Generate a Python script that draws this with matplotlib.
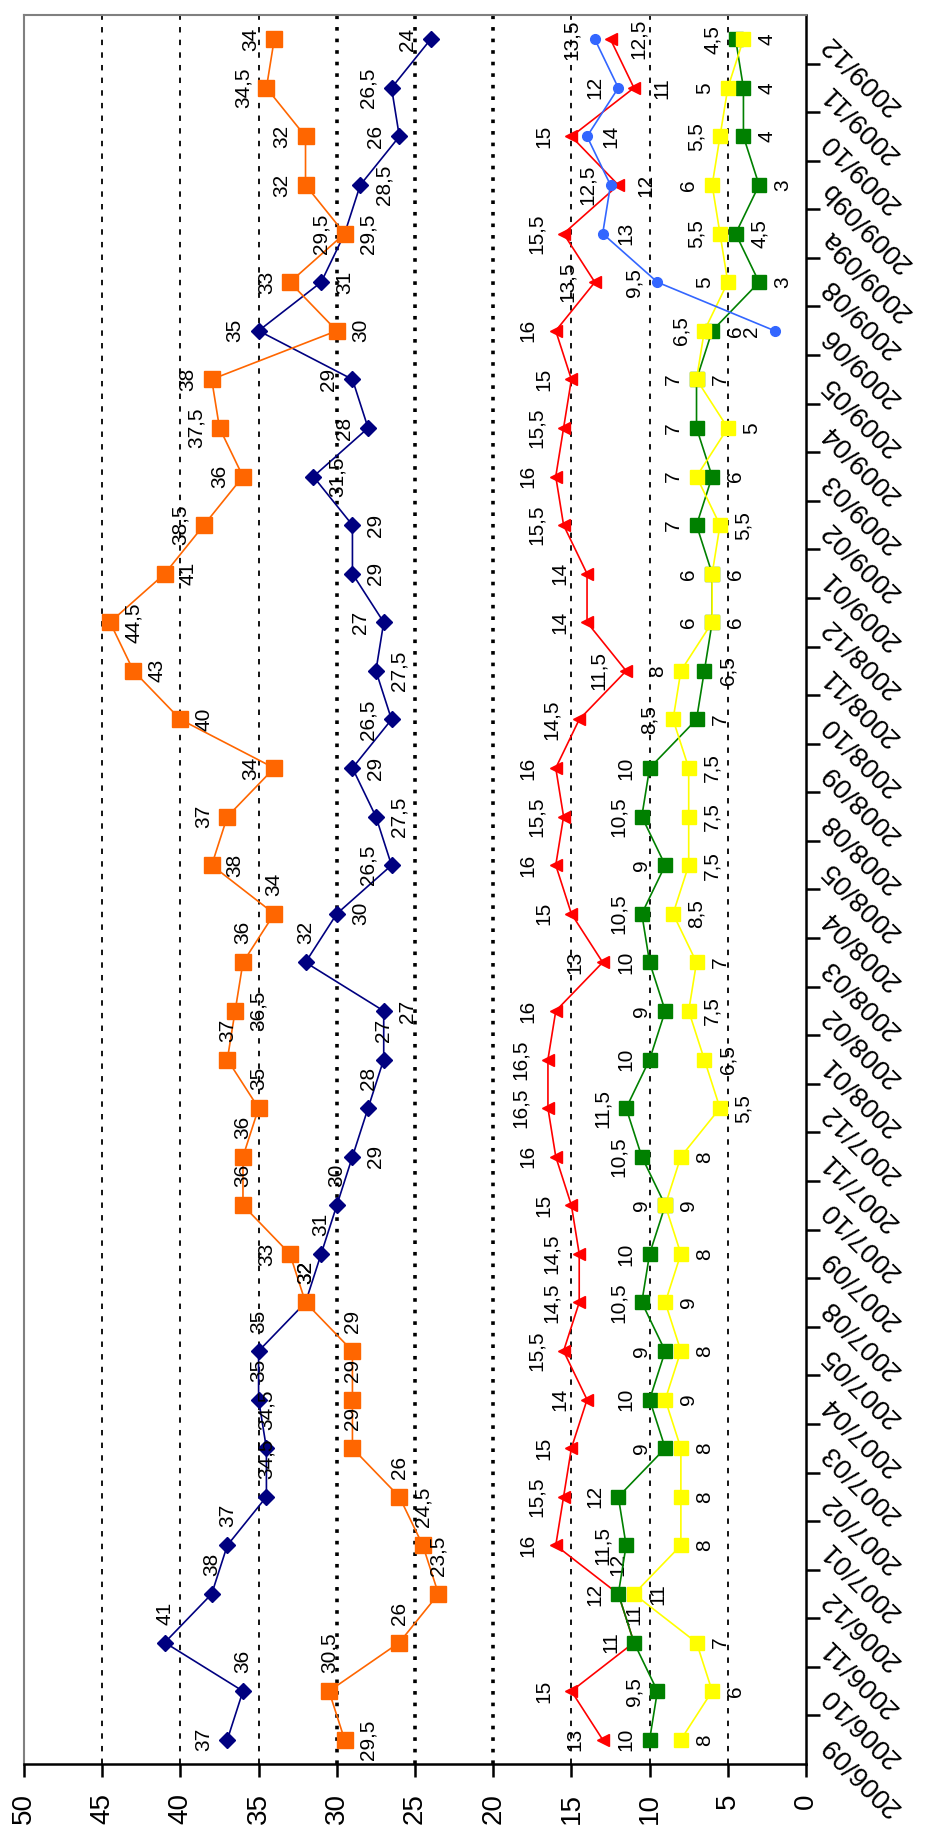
import numpy as np
import matplotlib.pyplot as plt

plt.rcParams['font.family'] = ['Liberation Sans', 'DejaVu Sans']

# categories, bottom to top
months = ['2006/09', '2006/10', '2006/11', '2006/12',
          '2007/01', '2007/02', '2007/03', '2007/04', '2007/05', '2007/08',
          '2007/09', '2007/10', '2007/11', '2007/12',
          '2008/01', '2008/02', '2008/03', '2008/04', '2008/05', '2008/08',
          '2008/09', '2008/10', '2008/11', '2008/12',
          '2009/01', '2009/02', '2009/03', '2009/04', '2009/05', '2009/06',
          '2009/08', '2009/09a', '2009/09b', '2009/10', '2009/11', '2009/12']

navy = [37, 36, 41, 38, 37, 34.5, 34.5, 35, 35, 32, 31, 30, 29, 28,
        27, 27, 32, 30, 26.5, 27.5, 29, 26.5, 27.5, 27,
        29, 29, 31.5, 28, 29, 35, 31, 29.5, 28.5, 26, 26.5, 24]
orange = [29.5, 30.5, 26, 23.5, 24.5, 26, 29, 29, 29, 32, 33, 36, 36, 35,
          37, 36.5, 36, 34, 38, 37, 34, 40, 43, 44.5,
          41, 38.5, 36, 37.5, 38, 30, 33, 29.5, 32, 32, 34.5, 34]
red = [13, 15, 11, 12, 16, 15.5, 15, 14, 15.5, 14.5, 14.5, 15, 16, 16.5,
       16.5, 16, 13, 15, 16, 15.5, 16, 14.5, 11.5, 14,
       14, 15.5, 16, 15.5, 15, 16, 13.5, 15.5, 12, 15, 11, 12.5]
green = [10, 9.5, 11, 12, 11.5, 12, 9, 10, 9, 10.5, 10, 9, 10.5, 11.5,
         10, 9, 10, 10.5, 9, 10.5, 10, 7, 6.5, 6,
         6, 7, 6, 7, 7, 6, 3, 4.5, 3, 4, 4, 4.5]
yellow = [8, 6, 7, 11, 8, 8, 8, 9, 8, 9, 8, 9, 8, 5.5,
          6.5, 7.5, 7, 8.5, 7.5, 7.5, 7.5, 8.5, 8, 6,
          6, 5.5, 7, 5, 7, 6.5, 5, 5.5, 6, 5.5, 5, 4]
blue = [None] * 29 + [2, 9.5, 13, 12.5, 14, 12, 13.5]

# label side for each point: L = left, R = right, U = above
navy_pos = 'LUUUUUUUUUUURUURURLRRLRLRRRLLLRRRLLL'
orange_pos = 'RUUUUUUUUULUUUURUURLLRRRRLLLLRLLLLLL'
red_pos = 'LLUU' + 'L' * 28 + 'RLRR'
blue_pos = 'L' * 31 + 'RLRLL'
# green / yellow: the larger value gets its label on the left
green_pos = ''.join('L' if g >= y else 'R' for g, y in zip(green, yellow))
yellow_pos = ''.join('R' if g >= y else 'L' for g, y in zip(green, yellow))

def fmt(v):
    if float(v).is_integer():
        return str(int(v))
    return str(v).replace('.', ',')

fig = plt.figure(figsize=(9.36, 18.43), dpi=100)
ax = fig.add_axes([24 / 936, 79 / 1843, 782 / 936, 1749 / 1843])
ax.set_xlim(50, 0)
ax.set_ylim(-0.5, len(months) - 0.5)

# grid lines
for g in range(5, 50, 5):
    if g in (20, 25, 30):
        ax.axvline(g, color='black', lw=2.6, ls=(0, (1, 2.2)), zorder=1)
    else:
        ax.axvline(g, color='black', lw=1.3, ls=(0, (3, 4)), zorder=1)

idx = np.arange(len(months))

def draw(vals, color, marker, ms, pos, gap=14):
    y = [i for i, v in zip(idx, vals) if v is not None]
    x = [v for v in vals if v is not None]
    ax.plot(x, y, color=color, lw=1.2, marker=marker, ms=ms,
            mec=color, mfc=color, zorder=3, clip_on=False)
    for xv, yv in zip(x, y):
        p = pos[yv]
        if p == 'L':
            ax.annotate(fmt(xv), (xv, yv), xytext=(-gap, 0), textcoords='offset pixels',
                        rotation=90, ha='right', va='center', fontsize=15)
        elif p == 'R':
            ax.annotate(fmt(xv), (xv, yv), xytext=(gap, 0), textcoords='offset pixels',
                        rotation=90, ha='left', va='center', fontsize=15)
        else:
            ax.annotate(fmt(xv), (xv, yv), xytext=(0, 18), textcoords='offset pixels',
                        rotation=90, ha='center', va='bottom', fontsize=15)

draw(navy, '#000080', 'D', 8, navy_pos)
draw(orange, '#FF6600', 's', 11, orange_pos)
draw(red, '#FF0000', '<', 9, red_pos, gap=18)
draw(green, '#008000', 's', 10, green_pos)
draw(yellow, '#FFFF00', 's', 10, yellow_pos)
draw(blue, '#3366FF', 'o', 7, blue_pos)

# axes look
for s in ('top', 'left'):
    ax.spines[s].set_color('#808080')
    ax.spines[s].set_linewidth(1.5)
for s in ('bottom', 'right'):
    ax.spines[s].set_color('black')
    ax.spines[s].set_linewidth(1.8)

ax.set_xticks(range(0, 55, 5))
ax.set_xticklabels([str(t) for t in range(0, 55, 5)], rotation=90, fontsize=20)
ax.tick_params(axis='x', direction='out', length=9, width=1.8, pad=12)

ax.yaxis.tick_right()
ax.set_yticks(idx)
ax.set_yticklabels(months, rotation=135, rotation_mode='anchor',
                   ha='right', va='center', fontsize=20)
ax.set_yticks(idx[:-1] + 0.5, minor=True)
ax.tick_params(axis='y', which='major', length=0, pad=14)
ax.tick_params(axis='y', which='minor', direction='out', length=10, width=1.8)

fig.savefig('out.png', dpi=100)
